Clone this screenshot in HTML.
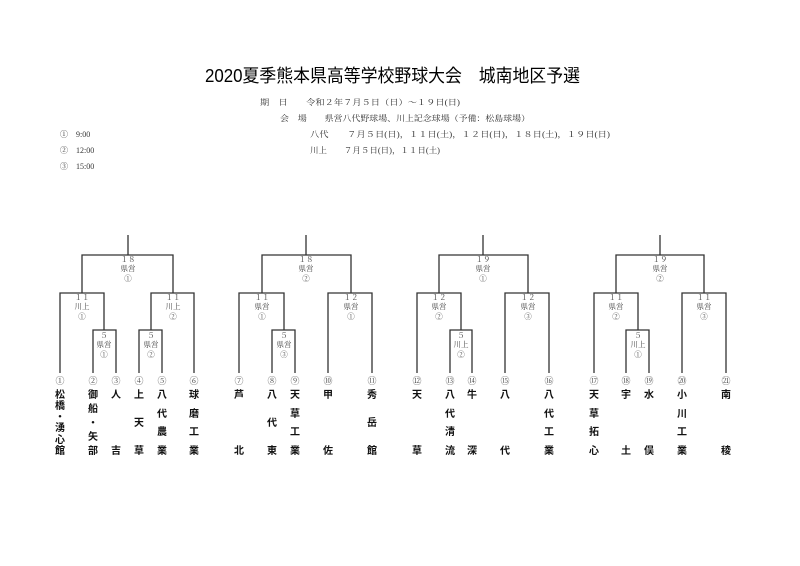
<!DOCTYPE html>
<html><head><meta charset="utf-8"><style>
html,body{margin:0;padding:0;background:#fff;}
svg{display:block;}
.t{font-family:"Liberation Sans","Noto Sans CJK JP",sans-serif;}
.s{font-family:"Liberation Serif","Noto Serif CJK SC",serif;fill:#333;font-size:8px;}
.n{font-family:"Liberation Sans","Noto Sans CJK JP",sans-serif;font-size:10px;font-weight:bold;fill:#111;text-anchor:middle;}
.l{font-family:"Liberation Serif","Noto Serif CJK SC",serif;font-size:7.5px;fill:#444;text-anchor:middle;}
.c{font-family:"Liberation Serif","Noto Serif CJK SC",serif;font-size:9px;fill:#444;text-anchor:middle;}
line,polyline{stroke:#333;stroke-width:1.3;fill:none;}
</style></head><body>
<svg width="800" height="566" xmlns="http://www.w3.org/2000/svg">
<text class="t" x="205" y="82" font-size="18" textLength="375" lengthAdjust="spacingAndGlyphs">2020夏季熊本県高等学校野球大会　城南地区予選</text>
<text class="s" x="260" y="105" textLength="200" lengthAdjust="spacingAndGlyphs">期　日　　令和２年７月５日（日）～１９日(日)</text>
<text class="s" x="280" y="121" textLength="250" lengthAdjust="spacingAndGlyphs">会　場　　県営八代野球場、川上記念球場（予備：松島球場）</text>
<text class="s" x="60" y="137">①　9:00</text>
<text class="s" x="60" y="153">②　12:00</text>
<text class="s" x="60" y="169">③　15:00</text>
<text class="s" x="310" y="137" textLength="300" lengthAdjust="spacingAndGlyphs">八代　　７月５日(日)，１１日(土)，１２日(日)，１８日(土)，１９日(日)</text>
<text class="s" x="310" y="153" textLength="130" lengthAdjust="spacingAndGlyphs">川上　　７月５日(日)，１１日(土)</text>

<g id="brackets">
<!-- block1 -->
<line x1="128" y1="235" x2="128" y2="255"/>
<polyline points="82,293 82,255 173,255 173,293"/>
<polyline points="60,373 60,293 104,293 104,330"/>
<polyline points="93,373 93,330 116,330 116,373"/>
<polyline points="151,330 151,293 194,293 194,373"/>
<polyline points="139,373 139,330 162,330 162,373"/>
<!-- block2 -->
<line x1="306" y1="235" x2="306" y2="255"/>
<polyline points="262,293 262,255 351,255 351,293"/>
<polyline points="239,373 239,293 284,293 284,330"/>
<polyline points="272,373 272,330 295,330 295,373"/>
<polyline points="328,373 328,293 372,293 372,373"/>
<!-- block3 -->
<line x1="483" y1="235" x2="483" y2="255"/>
<polyline points="439,293 439,255 528,255 528,293"/>
<polyline points="417,373 417,293 461,293 461,330"/>
<polyline points="450,373 450,330 472,330 472,373"/>
<polyline points="505,373 505,293 549,293 549,373"/>
<!-- block4 -->
<line x1="660" y1="235" x2="660" y2="255"/>
<polyline points="616,293 616,255 704,255 704,293"/>
<polyline points="594,373 594,293 638,293 638,330"/>
<polyline points="626,373 626,330 649,330 649,373"/>
<polyline points="682,373 682,293 726,293 726,373"/>
</g>

<!-- labels -->
<g>
<text class="l" x="128" y="262">１８</text><text class="l" x="128" y="271">県営</text><text class="l" x="128" y="281">①</text>
<text class="l" x="82" y="300">１１</text><text class="l" x="82" y="309">川上</text><text class="l" x="82" y="319">①</text>
<text class="l" x="173" y="300">１１</text><text class="l" x="173" y="309">川上</text><text class="l" x="173" y="319">②</text>
<text class="l" x="104" y="338">５</text><text class="l" x="104" y="347">県営</text><text class="l" x="104" y="357">①</text>
<text class="l" x="151" y="338">５</text><text class="l" x="151" y="347">県営</text><text class="l" x="151" y="357">②</text>

<text class="l" x="306" y="262">１８</text><text class="l" x="306" y="271">県営</text><text class="l" x="306" y="281">②</text>
<text class="l" x="262" y="300">１１</text><text class="l" x="262" y="309">県営</text><text class="l" x="262" y="319">①</text>
<text class="l" x="351" y="300">１２</text><text class="l" x="351" y="309">県営</text><text class="l" x="351" y="319">①</text>
<text class="l" x="284" y="338">５</text><text class="l" x="284" y="347">県営</text><text class="l" x="284" y="357">③</text>

<text class="l" x="483" y="262">１９</text><text class="l" x="483" y="271">県営</text><text class="l" x="483" y="281">①</text>
<text class="l" x="439" y="300">１２</text><text class="l" x="439" y="309">県営</text><text class="l" x="439" y="319">②</text>
<text class="l" x="528" y="300">１２</text><text class="l" x="528" y="309">県営</text><text class="l" x="528" y="319">③</text>
<text class="l" x="461" y="338">５</text><text class="l" x="461" y="347">川上</text><text class="l" x="461" y="357">②</text>

<text class="l" x="660" y="262">１９</text><text class="l" x="660" y="271">県営</text><text class="l" x="660" y="281">②</text>
<text class="l" x="616" y="300">１１</text><text class="l" x="616" y="309">県営</text><text class="l" x="616" y="319">②</text>
<text class="l" x="704" y="300">１１</text><text class="l" x="704" y="309">県営</text><text class="l" x="704" y="319">③</text>
<text class="l" x="638" y="338">５</text><text class="l" x="638" y="347">川上</text><text class="l" x="638" y="357">①</text>
</g>

<!-- numbers -->
<g>
<text class="c" x="60" y="384">①</text><text class="c" x="93" y="384">②</text><text class="c" x="116" y="384">③</text><text class="c" x="139" y="384">④</text><text class="c" x="162" y="384">⑤</text><text class="c" x="194" y="384">⑥</text>
<text class="c" x="239" y="384">⑦</text><text class="c" x="272" y="384">⑧</text><text class="c" x="295" y="384">⑨</text><text class="c" x="328" y="384">⑩</text><text class="c" x="372" y="384">⑪</text>
<text class="c" x="417" y="384">⑫</text><text class="c" x="450" y="384">⑬</text><text class="c" x="472" y="384">⑭</text><text class="c" x="505" y="384">⑮</text><text class="c" x="549" y="384">⑯</text>
<text class="c" x="594" y="384">⑰</text><text class="c" x="626" y="384">⑱</text><text class="c" x="649" y="384">⑲</text><text class="c" x="682" y="384">⑳</text><text class="c" x="726" y="384">㉑</text>
</g>

<!-- names -->
<g>
<text class="n" x="60" y="398">松</text><text class="n" x="60" y="409">橋</text><text class="n" x="60" y="420">・</text><text class="n" x="60" y="431">湧</text><text class="n" x="60" y="443">心</text><text class="n" x="60" y="454">館</text>
<text class="n" x="93" y="398">御</text><text class="n" x="93" y="412">船</text><text class="n" x="93" y="426">・</text><text class="n" x="93" y="440">矢</text><text class="n" x="93" y="454">部</text>
<text class="n" x="116" y="398">人</text><text class="n" x="116" y="454">吉</text>
<text class="n" x="139" y="398">上</text><text class="n" x="139" y="426">天</text><text class="n" x="139" y="454">草</text>
<text class="n" x="162" y="398">八</text><text class="n" x="162" y="417">代</text><text class="n" x="162" y="435">農</text><text class="n" x="162" y="454">業</text>
<text class="n" x="194" y="398">球</text><text class="n" x="194" y="417">磨</text><text class="n" x="194" y="435">工</text><text class="n" x="194" y="454">業</text>

<text class="n" x="239" y="398">芦</text><text class="n" x="239" y="454">北</text>
<text class="n" x="272" y="398">八</text><text class="n" x="272" y="426">代</text><text class="n" x="272" y="454">東</text>
<text class="n" x="295" y="398">天</text><text class="n" x="295" y="417">草</text><text class="n" x="295" y="435">工</text><text class="n" x="295" y="454">業</text>
<text class="n" x="328" y="398">甲</text><text class="n" x="328" y="454">佐</text>
<text class="n" x="372" y="398">秀</text><text class="n" x="372" y="426">岳</text><text class="n" x="372" y="454">館</text>

<text class="n" x="417" y="398">天</text><text class="n" x="417" y="454">草</text>
<text class="n" x="450" y="398">八</text><text class="n" x="450" y="417">代</text><text class="n" x="450" y="435">清</text><text class="n" x="450" y="454">流</text>
<text class="n" x="472" y="398">牛</text><text class="n" x="472" y="454">深</text>
<text class="n" x="505" y="398">八</text><text class="n" x="505" y="454">代</text>
<text class="n" x="549" y="398">八</text><text class="n" x="549" y="417">代</text><text class="n" x="549" y="435">工</text><text class="n" x="549" y="454">業</text>

<text class="n" x="594" y="398">天</text><text class="n" x="594" y="417">草</text><text class="n" x="594" y="435">拓</text><text class="n" x="594" y="454">心</text>
<text class="n" x="626" y="398">宇</text><text class="n" x="626" y="454">土</text>
<text class="n" x="649" y="398">水</text><text class="n" x="649" y="454">俣</text>
<text class="n" x="682" y="398">小</text><text class="n" x="682" y="417">川</text><text class="n" x="682" y="435">工</text><text class="n" x="682" y="454">業</text>
<text class="n" x="726" y="398">南</text><text class="n" x="726" y="454">稜</text>
</g>
</svg>
</body></html>
